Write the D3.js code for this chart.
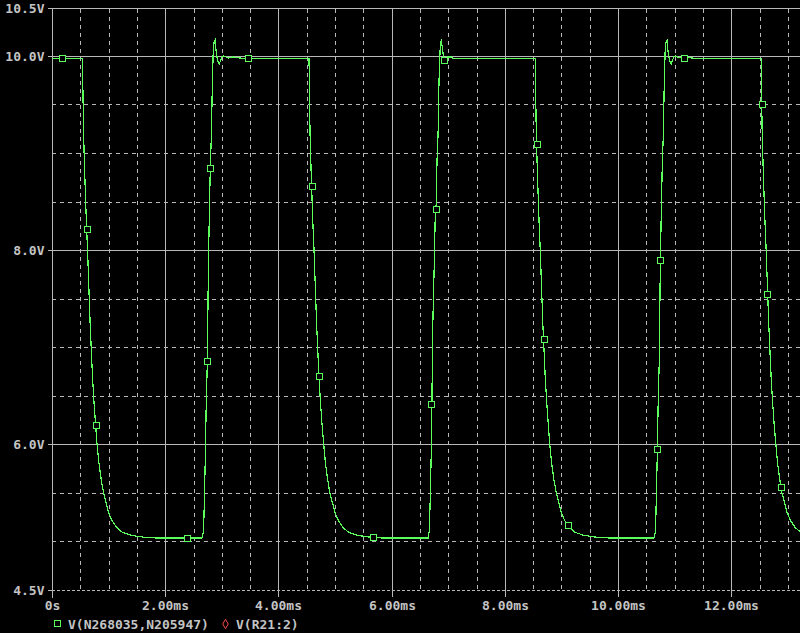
<!DOCTYPE html>
<html>
<head>
<meta charset="utf-8">
<script src="https://cdn.jsdelivr.net/npm/d3@7"></script>
<style>
  html, body { margin: 0; padding: 0; background: #000; }
  svg { display: block; }
  text { font-family: "DejaVu Sans Mono", monospace; font-weight: bold; font-size: 13px; fill: #c4c4c4; }
</style>
</head>
<body>
<svg id="chart" width="800" height="633"></svg>
<script>
// ---- axis ticks / labels ----
const xMajorTicks = [0, 2, 4, 6, 8, 10, 12];
const xTickLabels = ["0s", "2.00ms", "4.00ms", "6.00ms", "8.00ms", "10.00ms", "12.00ms"];
const xMinorTicks = [0.5, 1, 1.5, 2.5, 3, 3.5, 4.5, 5, 5.5, 6.5, 7, 7.5, 8.5, 9, 9.5, 10.5, 11, 11.5, 12.5, 13];
const yLabelTicks = [10.5, 10, 8, 6, 4.5];
const yTickLabels = ["10.5V", "10.0V", "8.0V", "6.0V", "4.5V"];
const ySolidGrid = [10.5, 10, 8, 6];
const yMinorGrid = [9.5, 9, 8.5, 7.5, 7, 6.5, 5.5, 5];
const legendLabels = ["V(N268035,N205947)", "V(R21:2)"];

// ---- trace V(N268035,N205947): [time ms, volts] ----
const segStart = [[0, 9.976]];
const segFall1 = [[0.540,9.976],[0.544,9.73],[0.558,9.20],[0.575,8.85],[0.590,8.58],[0.610,8.25],[0.628,8.00],[0.650,7.63],[0.675,7.22],[0.692,7.00],[0.715,6.70],[0.740,6.45],[0.770,6.20],[0.795,6.00],[0.830,5.80],[0.870,5.63],[0.910,5.50],[0.960,5.38],[1.000,5.29],[1.060,5.21],[1.140,5.14],[1.240,5.09],[1.390,5.06],[1.540,5.045],[1.690,5.035],[1.900,5.03]];
const segRise1 = [[2.648,5.03],[2.678,5.10],[2.693,5.45],[2.708,5.85],[2.726,6.45],[2.745,6.86],[2.753,7.30],[2.763,7.85],[2.780,8.38],[2.798,8.88],[2.816,9.18],[2.833,9.72],[2.850,10.08],[2.866,10.15],[2.881,10.165],[2.890,10.09],[2.905,10.03],[2.920,9.97],[2.940,9.93],[2.956,9.92],[2.975,9.95],[3.000,9.99],[3.027,10.0],[3.070,9.99],[3.115,9.98],[3.190,9.99],[3.250,9.985],[3.370,9.976]];
const segFall2 = [[4.541,9.976],[4.545,9.73],[4.559,9.20],[4.576,8.85],[4.591,8.58],[4.611,8.25],[4.629,8.00],[4.651,7.63],[4.676,7.22],[4.693,7.00],[4.716,6.70],[4.741,6.45],[4.771,6.20],[4.800,6.00],[4.831,5.80],[4.871,5.63],[4.906,5.50],[4.961,5.38],[5.000,5.29],[5.061,5.21],[5.141,5.14],[5.241,5.09],[5.391,5.06],[5.541,5.045],[5.691,5.035],[5.900,5.03]];
const segRise2 = [[6.648,5.03],[6.666,5.11],[6.684,5.47],[6.701,5.94],[6.714,6.48],[6.720,7.03],[6.731,7.31],[6.754,7.87],[6.772,8.39],[6.790,8.48],[6.802,8.92],[6.820,9.18],[6.837,9.73],[6.855,10.04],[6.867,10.15],[6.878,10.16],[6.890,10.11],[6.908,10.03],[6.926,9.96],[6.961,9.92],[6.996,9.99],[7.067,9.99],[7.085,9.976],[7.250,9.976]];
const segFall3 = [[8.538,9.976],[8.542,9.73],[8.556,9.20],[8.573,8.85],[8.588,8.58],[8.608,8.25],[8.626,8.00],[8.648,7.63],[8.673,7.22],[8.690,7.00],[8.713,6.70],[8.738,6.45],[8.768,6.20],[8.793,6.00],[8.828,5.80],[8.868,5.63],[8.908,5.50],[8.958,5.38],[8.998,5.29],[9.058,5.21],[9.138,5.14],[9.238,5.09],[9.388,5.06],[9.538,5.045],[9.688,5.035],[9.900,5.03]];
const segRise3 = [[10.632,5.03],[10.662,5.10],[10.677,5.45],[10.692,5.85],[10.710,6.45],[10.729,6.86],[10.737,7.30],[10.747,7.85],[10.764,8.38],[10.782,8.88],[10.800,9.18],[10.817,9.72],[10.834,10.08],[10.850,10.15],[10.865,10.165],[10.874,10.09],[10.889,10.03],[10.904,9.97],[10.924,9.93],[10.940,9.92],[10.959,9.95],[10.984,9.99],[11.011,10.0],[11.054,9.99],[11.099,9.98],[11.174,9.99],[11.234,9.985],[11.354,9.976]];
const segFall4 = [[12.529,9.976],[12.533,9.73],[12.547,9.20],[12.564,8.85],[12.579,8.58],[12.599,8.25],[12.617,8.00],[12.639,7.63],[12.664,7.22],[12.681,7.00],[12.704,6.70],[12.729,6.45],[12.759,6.20],[12.788,6.00],[12.819,5.80],[12.859,5.63],[12.894,5.50],[12.949,5.38],[12.988,5.29],[13.049,5.21],[13.129,5.14],[13.229,5.09],[13.300,5.07]];

// ---- trace markers (hollow squares) ----
const markerPoints = [[0.182,9.976],[0.612,8.22],[0.771,6.20],[2.385,5.03],[2.745,6.86],[2.797,8.85],[3.458,9.976],
  [4.588,8.66],[4.716,6.70],[5.675,5.04],[6.701,6.41],[6.790,8.42],[6.931,9.96],
  [8.562,9.09],[8.684,7.08],[9.117,5.16],[10.694,5.95],[10.747,7.90],[11.166,9.98],
  [12.540,9.50],[12.635,7.55],[12.880,5.56]];

const tracePoints = [].concat(segStart, segFall1, segRise1, segFall2, segRise2, segFall3, segRise3, segFall4);

// ---- drawing ----
const W = 800, H = 633;
const plotLeft = 52, plotRight = 800, plotTop = 7.5, plotBottom = 589.5;
const svg = d3.select("#chart");
svg.append("rect").attr("width", W).attr("height", H).attr("fill", "#000");

const x = d3.scaleLinear().domain([0, 13.215]).range([plotLeft, plotRight]);
const y = d3.scaleLinear().domain([4.5, 10.5]).range([plotBottom, plotTop]);

const gridColor = "#b8b8b8";
const px = v => Math.round(v) + 0.5;

const grid = svg.append("g").attr("shape-rendering", "crispEdges");
grid.selectAll("line.vminor").data(xMinorTicks).join("line")
  .attr("x1", d => px(x(d))).attr("x2", d => px(x(d)))
  .attr("y1", px(y(10.5))).attr("y2", px(y(4.5)))
  .attr("stroke", gridColor).attr("stroke-dasharray", "4,4");
grid.selectAll("line.hminor").data(yMinorGrid).join("line")
  .attr("x1", plotLeft).attr("x2", plotRight)
  .attr("y1", d => px(y(d))).attr("y2", d => px(y(d)))
  .attr("stroke", gridColor).attr("stroke-dasharray", "4,4");
grid.selectAll("line.vmajor").data(xMajorTicks.filter(d => d > 0)).join("line")
  .attr("x1", d => px(x(d))).attr("x2", d => px(x(d)))
  .attr("y1", px(y(10.5))).attr("y2", px(y(4.5)))
  .attr("stroke", gridColor);
grid.selectAll("line.hmajor").data(ySolidGrid).join("line")
  .attr("x1", plotLeft).attr("x2", plotRight)
  .attr("y1", d => px(y(d))).attr("y2", d => px(y(d)))
  .attr("stroke", gridColor);
grid.append("line")
  .attr("x1", plotLeft).attr("x2", plotRight)
  .attr("y1", px(y(4.5))).attr("y2", px(y(4.5)))
  .attr("stroke", gridColor).attr("stroke-dasharray", "3,2");
grid.append("line")
  .attr("x1", px(plotLeft)).attr("x2", px(plotLeft))
  .attr("y1", px(y(10.5))).attr("y2", px(y(4.5)) + 7)
  .attr("stroke", gridColor);

// axes via d3
const xAxis = d3.axisBottom(x).tickValues(xMajorTicks)
  .tickFormat((d, i) => xTickLabels[i]).tickSize(7).tickPadding(5);
const gx = svg.append("g").attr("transform", `translate(0,${px(y(4.5)) - 0.5})`).call(xAxis);
gx.select(".domain").remove();
gx.selectAll(".tick").attr("transform", d => `translate(${px(x(d))},0)`);
gx.selectAll(".tick line").attr("stroke", gridColor).attr("shape-rendering", "crispEdges");
gx.selectAll(".tick text").attr("fill", "#c4c4c4").attr("font-family", null).attr("font-size", null)
  .attr("dy", "0.6em");

const yAxis = d3.axisLeft(y).tickValues(yLabelTicks)
  .tickFormat((d, i) => yTickLabels[i]).tickSize(5).tickPadding(3);
const gy = svg.append("g").attr("transform", `translate(${plotLeft + 0.5},0)`).call(yAxis);
gy.select(".domain").remove();
gy.selectAll(".tick").attr("transform", d => `translate(0,${px(y(d))})`);
gy.selectAll(".tick line").attr("stroke", gridColor).attr("shape-rendering", "crispEdges");
gy.selectAll(".tick text").attr("fill", "#c4c4c4").attr("font-family", null).attr("font-size", null)
  .attr("dy", "0.36em");

// clip
svg.append("clipPath").attr("id", "plotclip").append("rect")
  .attr("x", plotLeft).attr("y", 0).attr("width", plotRight - plotLeft).attr("height", plotBottom);

const green = "#5cff5c";
const line = d3.line().x(d => x(d[0])).y(d => y(d[1]));
const plot = svg.append("g").attr("clip-path", "url(#plotclip)");
plot.append("path").datum(tracePoints)
  .attr("d", line).attr("fill", "none").attr("stroke", green).attr("stroke-width", 1.2)
  .attr("shape-rendering", "crispEdges");

plot.selectAll("rect.mk").data(markerPoints).join("rect")
  .attr("x", d => Math.round(x(d[0])) - 2.5).attr("y", d => Math.round(y(d[1])) - 2.5)
  .attr("width", 6).attr("height", 6)
  .attr("fill", "#000").attr("stroke", green).attr("stroke-width", 1)
  .attr("shape-rendering", "crispEdges");

// legend
const lg = svg.append("g");
const ly = 624;
lg.append("rect").attr("x", 54.5).attr("y", ly - 3.5).attr("width", 6).attr("height", 6)
  .attr("fill", "none").attr("stroke", green).attr("shape-rendering", "crispEdges");
lg.append("text").attr("x", 68).attr("y", ly).attr("dy", "0.36em").text(legendLabels[0]);
lg.append("path")
  .attr("d", d3.symbol().type(d3.symbolDiamond).size(26)())
  .attr("transform", `translate(225.5,${ly})`)
  .attr("fill", "none").attr("stroke", "#ff4a4a").attr("stroke-width", 1);
lg.append("text").attr("x", 236).attr("y", ly).attr("dy", "0.36em").text(legendLabels[1]);
</script>
</body>
</html>
